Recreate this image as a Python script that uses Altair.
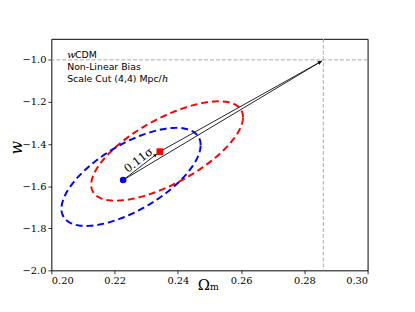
import altair as alt
import numpy as np
import pandas as pd

# ---- data ----
x_ticks = [0.20, 0.22, 0.24, 0.26, 0.28, 0.30]
y_ticks = [-2.0, -1.8, -1.6, -1.4, -1.2, -1.0]
x_domain = [0.20, 0.30]
y_domain = [-2.0, -0.9]

fiducial_om = 0.286
fiducial_w = -1.0
arrow_tip = [0.2856, -1.005]

blue_point = [0.2227, -1.571]
red_point = [0.2343, -1.436]

# ellipse: centre om, centre w, half-extent om, half-extent w, correlation
blue_ellipse = [0.2252, -1.556, 0.0220, 0.233, 0.65]
red_ellipse = [0.2366, -1.433, 0.0240, 0.236, 0.68]

shift_label = "0.11σ"
shift_label_pos = [0.2277, -1.479]

info_x = 0.2050
info_y = [-0.991, -1.048, -1.106]
info_text = ["CDM", "Non-Linear Bias", "Scale Cut (4,4) Mpc/"]

SERIF = "DejaVu Serif"
W, H = 321, 235
xs = alt.Scale(domain=x_domain, nice=False, zero=False)
ys = alt.Scale(domain=y_domain, nice=False, zero=False)


def ellipse_df(p, name):
    t = np.linspace(0, 2 * np.pi, 241)
    om = p[0] + p[2] * np.cos(t)
    w = p[1] + p[3] * (p[4] * np.cos(t) + np.sqrt(1 - p[4] ** 2) * np.sin(t))
    return pd.DataFrame({"om": om, "w": w, "i": np.arange(len(t)), "name": name})


def angle_deg(a, b):
    dx = (b[0] - a[0]) * W / (x_domain[1] - x_domain[0])
    dy = (b[1] - a[1]) * H / (y_domain[1] - y_domain[0])
    return float(np.degrees(np.arctan2(dx, dy)) % 360)


def back_off(a, b, px):
    dx = (b[0] - a[0]) * W / (x_domain[1] - x_domain[0])
    dy = (b[1] - a[1]) * H / (y_domain[1] - y_domain[0])
    L = np.hypot(dx, dy)
    return [b[0] - (b[0] - a[0]) * px / L, b[1] - (b[1] - a[1]) * px / L]


X = lambda f="om": alt.X(f"{f}:Q", scale=xs)
Y = lambda f="w": alt.Y(f"{f}:Q", scale=ys)

vline = alt.Chart(pd.DataFrame({"om": [fiducial_om]})).mark_rule(
    color="#aaaaaa", strokeWidth=1, strokeDash=[4, 2]
).encode(x=alt.X("om:Q", scale=xs, axis=alt.Axis(
    values=x_ticks, format=".2f", title="Ωₘ", labelFont=SERIF, labelFontSize=10,
    titleX=159, titleY=14, titleBaseline="middle", titleAlign="center")))
hline = alt.Chart(pd.DataFrame({"w": [fiducial_w]})).mark_rule(
    color="#aaaaaa", strokeWidth=1, strokeDash=[4, 2]
).encode(y=alt.Y("w:Q", scale=ys, axis=alt.Axis(
    values=y_ticks, title="w", labelFont=SERIF, labelFontSize=10,
    titleX=-35, titleY=110, titleBaseline="middle", titleAlign="center",
    labelExpr="replace(format(datum.value, '.1f'), '-', '−')")))

ell_blue = alt.Chart(ellipse_df(blue_ellipse, "b")).mark_line(
    color="#0000ff", strokeWidth=2, strokeDash=[7, 4]
).encode(x=X(), y=Y(), order="i:Q")
ell_red = alt.Chart(ellipse_df(red_ellipse, "r")).mark_line(
    color="#ff0000", strokeWidth=2, strokeDash=[7, 4]
).encode(x=X(), y=Y(), order="i:Q")

segs = [(blue_point, arrow_tip), (red_point, arrow_tip), (blue_point, back_off(blue_point, red_point, 3))]
seg_df = pd.DataFrame({
    "om": [s[0][0] for s in segs], "w": [s[0][1] for s in segs],
    "om2": [s[1][0] for s in segs], "w2": [s[1][1] for s in segs],
})
arrows = alt.Chart(seg_df).mark_rule(color="#222222", strokeWidth=1).encode(
    x=X(), y=Y(), x2="om2:Q", y2="w2:Q")

heads = []
for a, b in segs:
    c = back_off(a, b, 2.5)
    heads.append({"om": c[0], "w": c[1], "ang": angle_deg(a, b)})
heads_chart = alt.Chart(pd.DataFrame(heads)).mark_point(
    shape="triangle-up", filled=True, color="#111111", size=16, opacity=1
).encode(x=X(), y=Y(), angle=alt.Angle("ang:Q", scale=None))

pts = pd.DataFrame({"om": [blue_point[0], red_point[0]], "w": [blue_point[1], red_point[1]],
                    "c": ["#0000ff", "#ff0000"], "s": ["circle", "square"]})
points = alt.Chart(pts).mark_point(filled=True, size=45, opacity=1).encode(
    x=X(), y=Y(), color=alt.Color("c:N", scale=None),
    shape=alt.Shape("s:N", scale=None))

sig_angle = 360 - np.degrees(np.arctan2(
    (red_point[1] - blue_point[1]) * H / 1.1, (red_point[0] - blue_point[0]) * W / 0.1))
sig = alt.Chart(pd.DataFrame({"om": [shift_label_pos[0]], "w": [shift_label_pos[1]], "t": [shift_label]})).mark_text(
    font=SERIF, fontSize=11.5, angle=float(sig_angle), align="center", baseline="middle", color="black"
).encode(x=X(), y=Y(), text="t:N")

info = alt.Chart(pd.DataFrame({"om": [info_x + 0.0025, info_x, info_x], "w": info_y, "t": info_text})).mark_text(
    font="DejaVu Sans", fontSize=9.5, align="left", baseline="alphabetic", color="black"
).encode(x=X(), y=Y(), text="t:N")
italics = alt.Chart(pd.DataFrame({"om": [info_x, info_x + 0.0300], "w": [info_y[0], info_y[2]], "t": ["w", "h"]})).mark_text(
    font=SERIF, fontStyle="italic", fontSize=10, align="left", baseline="alphabetic", color="black"
).encode(x=X(), y=Y(), text="t:N")

chart = alt.layer(vline, hline, ell_red, ell_blue, arrows, heads_chart, points, sig, info, italics).properties(
    width=W, height=H, autosize=alt.AutoSizeParams(type="none"),
    padding={"left": 44, "top": 29, "right": 40, "bottom": 40}
).configure_view(stroke="black", strokeWidth=1).configure_axis(
    grid=False, domain=False, tickColor="black", tickSize=3.5, tickWidth=0.8,
    labelFont=SERIF, labelFontSize=10, labelColor="black", labelPadding=2,
    titleFont=SERIF, titleFontWeight="normal", titleColor="black",
).configure_axisX(titleFontSize=15).configure_axisY(
    titleFontSize=16, titleFontStyle="italic", titleAngle=270)

chart.save("out.html", embed_options={"renderer": "svg", "actions": False})
